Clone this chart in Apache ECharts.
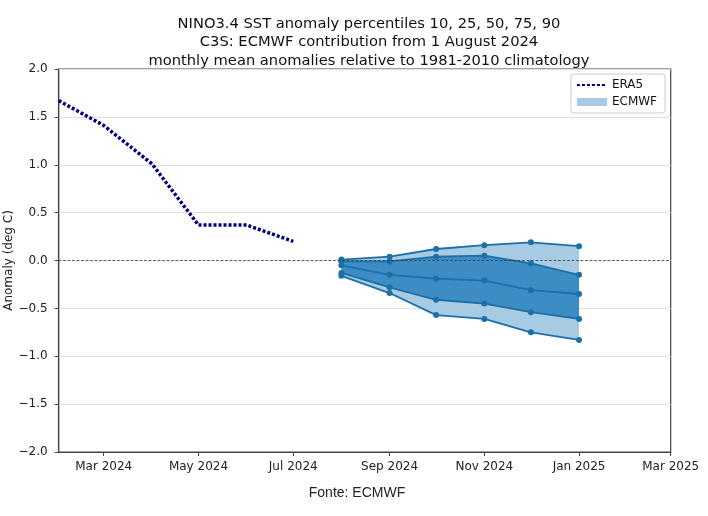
<!DOCTYPE html>
<html>
<head>
<meta charset="utf-8">
<script src="https://cdn.jsdelivr.net/npm/echarts@6/dist/echarts.min.js"></script>
<style>html,body{margin:0;padding:0;background:#fff}#c{width:708px;height:516px}</style>
</head>
<body>
<div id="c"></div>
<script>
// ---- data ----
var era5Dates = ['2024-02-01','2024-03-01','2024-04-01','2024-05-01','2024-06-01','2024-07-01'];
var era5Values = [1.67, 1.41, 1.01, 0.37, 0.37, 0.20];

var fcDates = ['2024-08-01','2024-09-01','2024-10-01','2024-11-01','2024-12-01','2025-01-01'];
var p10 = [-0.16, -0.34, -0.57, -0.61, -0.75, -0.83];
var p25 = [-0.13, -0.28, -0.41, -0.45, -0.54, -0.61];
var p50 = [-0.05, -0.15, -0.19, -0.21, -0.31, -0.35];
var p75 = [-0.01, -0.01, 0.04, 0.05, -0.03, -0.15];
var p90 = [0.01, 0.04, 0.12, 0.16, 0.19, 0.15];

var tickDates = ['2024-03-01','2024-05-01','2024-07-01','2024-09-01','2024-11-01','2025-01-01','2025-03-01'];
var tickLabels = ['Mar 2024','May 2024','Jul 2024','Sep 2024','Nov 2024','Jan 2025','Mar 2025'];
var xMinDate = '2024-02-01', xMaxDate = '2025-03-01';

var titleLines = ['NINO3.4 SST anomaly percentiles 10, 25, 50, 75, 90',
                  'C3S: ECMWF contribution from 1 August 2024',
                  'monthly mean anomalies relative to 1981-2010 climatology'];
var sourceText = 'Fonte: ECMWF';

// ---- build ----
function t(s){ return new Date(s + 'T00:00:00Z').getTime(); }
function pairs(dates, vals){ return dates.map(function(d,i){ return [t(d), vals[i]]; }); }
var tickVals = tickDates.map(t);

var lightC = '#a6cbe3', darkC = '#3d8dc4', lineC = '#1c6fa8';
var font = 'DejaVu Sans';

function bandSeries(name, lo, hi, color){
  return {
    name:name, type:'custom', silent:true, z:1, clip:true,
    itemStyle:{color:color},
    data:[[t(fcDates[0]), lo[0]]],
    renderItem:function(params, api){
      var pts = [], i;
      for (i = 0; i < fcDates.length; i++) pts.push(api.coord([t(fcDates[i]), hi[i]]));
      for (i = fcDates.length - 1; i >= 0; i--) pts.push(api.coord([t(fcDates[i]), lo[i]]));
      return {type:'polygon', shape:{points:pts}, style:{fill:color, stroke:null}};
    }
  };
}

var series = [
  bandSeries('ECMWF', p10, p90, lightC),
  bandSeries('inner', p25, p75, darkC)
];
[p10,p25,p50,p75,p90].forEach(function(p,i){
  series.push({name:'p'+i, type:'line', data:pairs(fcDates,p), symbol:'circle', symbolSize:6,
    lineStyle:{color:lineC, width:1.8}, itemStyle:{color:lineC}, z:3, silent:true});
});
series.push({name:'ERA5', type:'line', data:pairs(era5Dates,era5Values), symbol:'none',
  lineStyle:{color:'#000080', width:3.5, type:[3,2]}, itemStyle:{color:'#000080'}, z:5,
  markLine:{silent:true, symbol:'none', label:{show:false}, z:4,
    lineStyle:{color:'#333', width:0.8, type:[2.5,2]}, data:[{yAxis:0}]}});

var chart = echarts.init(document.getElementById('c'));
chart.setOption({
  animation:false,
  backgroundColor:'#fff',
  title:[
    {text:titleLines.join('\n'), left:364, textAlign:'center', top:10,
     textStyle:{fontFamily:font, fontSize:14.7, fontWeight:'normal', color:'#111', lineHeight:18.3}},
    {text:sourceText, left:352, textAlign:'center', top:481,
     textStyle:{fontFamily:'Liberation Sans', fontSize:14, fontWeight:'normal', color:'#222'}}
  ],
  legend:{
    data:[{name:'ERA5', itemStyle:{color:'rgba(0,0,0,0)', borderWidth:0}},{name:'ECMWF', icon:'rect', itemStyle:{color:lightC}}],
    orient:'vertical', right:43, top:74, itemWidth:30, itemHeight:8, itemGap:5,
    padding:[5,8,5,5], borderColor:'#ccc', borderWidth:1, borderRadius:3, backgroundColor:'#fff',
    textStyle:{fontFamily:font, fontSize:12, color:'#111'}
  },
  grid:{left:58.7, right:37.3, top:69, bottom:64, show:true, borderColor:'#444', borderWidth:1.2,
    containLabel:false, outerBoundsMode:'none'},
  xAxis:{
    type:'value', min:t(xMinDate), max:t(xMaxDate),
    axisLine:{show:true, onZero:false, lineStyle:{color:'#444', width:1.2}},
    axisTick:{show:true, customValues:tickVals, length:4, lineStyle:{color:'#444'}},
    axisLabel:{customValues:tickVals, margin:9, fontFamily:font, fontSize:12, color:'#222',
      formatter:function(v){ var i = tickVals.indexOf(+v); return i>=0 ? tickLabels[i] : ''; }},
    splitLine:{show:false}
  },
  yAxis:{
    type:'value', min:-2, max:2, interval:0.5,
    name:'Anomaly (deg C)', nameLocation:'middle', nameGap:44, nameRotate:90, nameMoveOverlap:false,
    nameTextStyle:{fontFamily:font, fontSize:12, color:'#222'},
    axisLine:{show:true, onZero:false, lineStyle:{color:'#444', width:1.2}},
    axisTick:{show:true, length:4, lineStyle:{color:'#444'}},
    axisLabel:{margin:11, fontFamily:font, fontSize:12, color:'#222',
      formatter:function(v){ return v.toFixed(1).replace('-', '\u2212'); }},
    splitLine:{show:true, lineStyle:{color:'#e0e0e0', width:1}}
  },
  series:series
});
</script>
</body>
</html>
